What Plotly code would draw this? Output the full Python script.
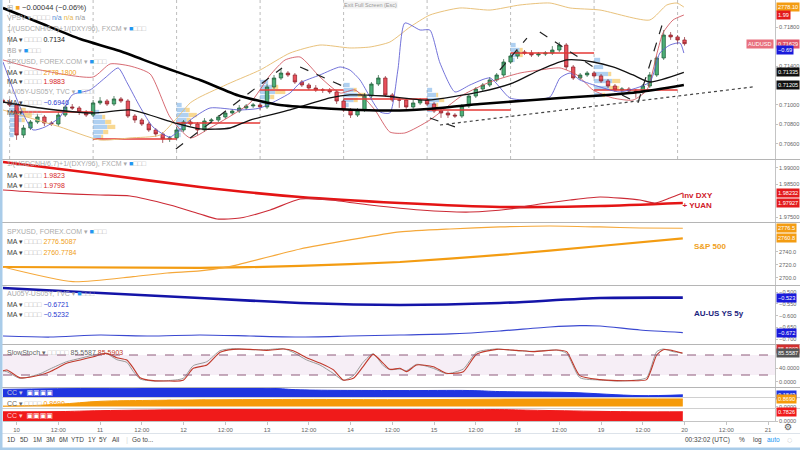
import plotly.graph_objects as go

# x axis = hours since Mon 11 Feb 00:00 UTC (weekend removed), 2h bars
W, H = 800, 450
PLOT_H = 421          # stacked panes end here, date labels + toolbar below
FONT = "Liberation Sans, DejaVu Sans, sans-serif"

tick_hours = list(range(-24, 193, 12))
tick_text = ["10", "12:00", "11", "12:00", "12", "12:00", "13", "12:00", "14", "12:00",
             "15", "12:00", "18", "12:00", "19", "12:00", "20", "12:00", "21"]
session_starts = [-26, -2, 22, 46, 70, 94, 118, 142, 166]

# ---- AUDUSD candles ----
bar_hours = list(range(-28, 169, 2))
first_open = 0.71051
closes = [0.71031, 0.71000, 0.70692, 0.70764, 0.70826, 0.70877, 0.70815, 0.70805, 0.70897, 0.70980,
          0.70969, 0.70928, 0.70897, 0.71021, 0.71041, 0.71010, 0.71062, 0.71041, 0.70887, 0.70846,
          0.70805, 0.70744, 0.70703, 0.70651, 0.70662, 0.70744, 0.70826, 0.70805, 0.70744, 0.70836,
          0.70846, 0.70877, 0.70918, 0.70938, 0.70969, 0.70990, 0.71000, 0.70980, 0.71185, 0.71277,
          0.71328, 0.71308, 0.71236, 0.71205, 0.71174, 0.71154, 0.71154, 0.71134, 0.71041, 0.70949,
          0.70897, 0.70949, 0.71092, 0.71215, 0.71277, 0.71103, 0.71051, 0.71051, 0.70980, 0.71021,
          0.71051, 0.71010, 0.70938, 0.70918, 0.70897, 0.70887, 0.70990, 0.71092, 0.71164, 0.71205,
          0.71257, 0.71308, 0.71441, 0.71503, 0.71544, 0.71533, 0.71513, 0.71523, 0.71533, 0.71564,
          0.71615, 0.71390, 0.71277, 0.71308, 0.71328, 0.71298, 0.71246, 0.71195, 0.71154, 0.71164,
          0.71144, 0.71134, 0.71195, 0.71308, 0.71482, 0.71718, 0.71698, 0.71667, 0.71629]
# wick lengths in pips
wick_up = [2, 3, 2, 3, 2, 3, 2, 2, 3, 2, 3, 2, 2, 3, 4, 2, 3, 2, 2, 2,
           2, 2, 2, 2, 2, 3, 2, 2, 2, 3, 2, 2, 2, 2, 3, 2, 2, 2, 3, 3,
           4, 2, 2, 2, 2, 3, 2, 2, 2, 2, 2, 2, 3, 2, 3, 2, 2, 2, 2, 3,
           2, 2, 2, 2, 2, 2, 2, 2, 2, 2, 3, 2, 3, 3, 2, 2, 3, 2, 2, 4,
           3, 2, 2, 2, 2, 2, 2, 2, 2, 2, 2, 2, 2, 3, 2, 5, 3, 2, 3]
wick_dn = [2, 2, 5, 3, 2, 2, 3, 2, 2, 2, 2, 3, 2, 2, 2, 2, 2, 2, 2, 3,
           2, 2, 3, 4, 3, 2, 2, 2, 5, 2, 2, 2, 2, 2, 2, 2, 2, 3, 2, 2,
           2, 2, 2, 2, 2, 2, 3, 2, 3, 2, 3, 2, 2, 2, 2, 2, 2, 8, 2, 2,
           2, 2, 2, 5, 3, 2, 2, 2, 2, 2, 2, 2, 2, 2, 3, 2, 2, 2, 2, 2,
           2, 3, 2, 2, 2, 2, 2, 2, 2, 3, 2, 6, 2, 2, 2, 2, 3, 4, 2]

# ---- overlays on the price pane (in AUDUSD price units) ----
ma_long_h = [-27.9, -17.2, -5.7, 5.7, 17.2, 28.7, 40.2, 51.7, 63.2, 74.7, 86.2, 97.7,
             109.2, 120.7, 132.2, 143.7, 155.2, 167.8]
ma_long = [0.71995, 0.71841, 0.71677, 0.71554, 0.71400, 0.71257, 0.71092, 0.71000, 0.70969,
           0.70949, 0.70944, 0.70969, 0.71010, 0.71041, 0.71072, 0.71098, 0.71134, 0.71205]
ma_mid_h = [-27.9, -17.2, -2.0, 8.6, 21.6, 28.7, 37.4, 43.1, 54.6, 66.1, 71.8, 81.9, 94.0,
            109.2, 118.7, 126.4, 134.2, 141.7, 147.4, 153.2, 158.0, 167.8]
ma_mid = [0.71031, 0.70969, 0.70918, 0.70949, 0.70815, 0.70754, 0.70764, 0.70846, 0.70949,
          0.71072, 0.71103, 0.71092, 0.71051, 0.71134, 0.71226, 0.71359, 0.71462, 0.71441,
          0.71390, 0.71308, 0.71236, 0.71335]
spx_ov_h = [-27.9, -20.1, -11.5, 0, 8.6, 17.2, 22.1, 25.9, 28.7, 37.4, 46.0, 54.6, 63.2, 71.8,
            77.6, 83.3, 89.1, 94.8, 103.4, 112.1, 120.7, 129.3, 135.1, 143.7, 158.0, 162.9,
            165.8, 167.8]
spx_ov = [0.70949, 0.70867, 0.70775, 0.70641, 0.70662, 0.70692, 0.70867, 0.71021, 0.71082,
          0.71226, 0.71359, 0.71533, 0.71615, 0.71585, 0.71595, 0.71646, 0.71800, 0.71923,
          0.71995, 0.71974, 0.72026, 0.72046, 0.71995, 0.71974, 0.71872, 0.72026, 0.72046,
          0.72005]
dxy_ov_h = [-27.9, -17.2, -2.0, 2.9, 8.6, 14.4, 20.1, 25.9, 31.6, 43.1, 48.9, 53.2, 57.5,
            63.2, 69.0, 73.3, 79.0, 83.3, 87.6, 94.8, 104.3, 112.1, 120.7, 126.4, 132.2,
            137.1, 141.7, 147.4, 153.2, 157.2, 160.1, 161.8, 164.7, 167.8]
dxy_ov = [0.71462, 0.71359, 0.71287, 0.71421, 0.71400, 0.71318, 0.70877, 0.70662, 0.70764,
          0.71021, 0.71308, 0.71462, 0.71492, 0.71287, 0.71123, 0.71154, 0.70949, 0.70723,
          0.70713, 0.70846, 0.71103, 0.71236, 0.71328, 0.71359, 0.71380, 0.71308, 0.71154,
          0.71072, 0.71051, 0.71154, 0.71533, 0.71739, 0.71872, 0.71923]
au_ov_h = [-27.9, -23.0, -19.3, -15.8, -11.5, -8.0, -2.9, 1.4, 5.2, 7.8, 11.5, 15.2, 20.1,
           25.9, 31.6, 40.2, 46.0, 54.6, 57.5, 63.2, 69.0, 71.8, 74.7, 77.6, 80.5, 83.3,
           85.6, 87.6, 92.0, 94.8, 97.7, 102.0, 106.3, 112.1, 117.8, 123.6, 129.3, 132.2,
           135.1, 137.9, 143.7, 149.4, 158.0, 160.9, 163.8, 166.7, 167.8]
au_ov = [0.71441, 0.70980, 0.70744, 0.70775, 0.70877, 0.71103, 0.71154, 0.71277, 0.71380,
         0.71226, 0.70980, 0.70775, 0.70672, 0.70846, 0.70969, 0.70949, 0.70969, 0.71123,
         0.71226, 0.71308, 0.71390, 0.71359, 0.71257, 0.71082, 0.70928, 0.70918, 0.71359,
         0.71841, 0.71769, 0.71769, 0.71431, 0.71134, 0.71205, 0.71277, 0.71072, 0.71051,
         0.71082, 0.71277, 0.71328, 0.71257, 0.71185, 0.71134, 0.71236, 0.71533, 0.71615,
         0.71636, 0.71533]

# session volume profiles
vp_start = [-26, -2, 22, 46, 70, 94, 118, 142]
vp_price = [[0.71000, 0.70949, 0.70897, 0.70846, 0.70795, 0.70744, 0.70692],
            [0.70928, 0.70877, 0.70826, 0.70775, 0.70723, 0.70672],
            [0.71000, 0.70949, 0.70897, 0.70846, 0.70795, 0.70744, 0.70692],
            [0.71236, 0.71185, 0.71134, 0.71082, 0.71031],
            [0.71205, 0.71154, 0.71103, 0.71051, 0.71000],
            [0.71154, 0.71103, 0.71051, 0.71000, 0.70949],
            [0.71615, 0.71564, 0.71513, 0.71462],
            [0.71462, 0.71390, 0.71318, 0.71246, 0.71174, 0.71103]]
vp_blue = [[6, 10, 14, 12, 9, 7, 4], [6, 9, 12, 14, 10, 8], [5, 9, 12, 10, 8, 6, 4],
           [8, 12, 15, 10, 6], [6, 10, 14, 10, 5], [5, 9, 12, 9, 5], [5, 9, 8, 4],
           [6, 9, 14, 18, 15, 8]]
vp_yellow = [[0, 6, 8, 3, 0, 0, 0], [0, 3, 6, 8, 5, 2], [0, 4, 8, 4, 0, 0, 0],
             [0, 6, 10, 4, 0], [0, 3, 8, 4, 0], [0, 2, 5, 2, 0], [0, 3, 4, 0],
             [0, 0, 3, 8, 10, 3]]
poc_start = [-26, -2, 22, 46, 70, 94, 118, 142]
poc_end = [-2, 22, 46, 70, 94, 118, 142, 166]
poc_price = [0.70928, 0.70651, 0.70815, 0.71154, 0.71062, 0.70949, 0.71533, 0.71154]

# hand drawings
draw_x = [[21.8, 52.3], [57.5, 71.0], [94.8, 102.0], [114.9, 122.7], [126.4, 142.2],
          [150.0, 154.6, 161.8]]
draw_y = [[0.70549, 0.71380], [0.71390, 0.71174], [0.70867, 0.70775], [0.71359, 0.71687],
          [0.71749, 0.71380], [0.71103, 0.71021, 0.71851]]
trend_x = [97.7, 187.6]
trend_y = [0.70795, 0.71185]

# ---- inv DXY + YUAN ----
dxy_slow_h = [-27.9, 0, 28.7, 57.5, 86.2, 114.9, 143.7, 167.5]
dxy_slow = [1.99178, 1.98812, 1.98415, 1.98110, 1.97927, 1.97805, 1.97835, 1.97927]
dxy_fast_h = [-27.9, -14.4, 0, 8.6, 20.1, 28.7, 33.6, 40.2, 48.9, 57.5, 66.1, 77.6, 92.0,
              106.3, 117.8, 126.4, 135.1, 143.7, 155.2, 159.5, 163.8, 167.5]
dxy_fast = [1.98324, 1.98232, 1.98171, 1.98141, 1.97866, 1.97592, 1.97439, 1.97470, 1.97714,
            1.98049, 1.98019, 1.97866, 1.97714, 1.97653, 1.97744, 1.97897, 1.98019, 1.98110,
            1.98019, 1.97927, 1.98080, 1.98232]

# ---- S&P 500 ----
spx_slow_h = [-27.9, 28.7, 57.5, 86.2, 114.9, 143.7, 167.5]
spx_slow = [2716.9, 2715.4, 2718.5, 2724.6, 2735.4, 2749.2, 2760.8]
spx_fast_h = [-27.9, -7.8, 9.5, 19.3, 28.7, 37.1, 57.5, 71.8, 86.2, 100.6, 114.9, 129.3,
              143.7, 155.2, 167.5]
spx_fast = [2716.9, 2694.3, 2702.0, 2707.7, 2710.8, 2717.4, 2744.6, 2758.5, 2770.8, 2775.4,
            2778.5, 2780.0, 2778.5, 2776.9, 2776.5]

# ---- AU-US 5y spread ----
au_slow_h = [-27.9, 0, 28.7, 57.5, 86.2, 114.9, 143.7, 167.5]
au_slow = [-0.4817, -0.5031, -0.5244, -0.5458, -0.5543, -0.5458, -0.5244, -0.5230]
au_fast_h = [-27.9, -14.4, 0, 14.4, 28.7, 43.1, 57.5, 71.8, 86.2, 100.6, 114.9, 129.3,
             137.9, 143.7, 155.2, 167.5]
au_fast = [-0.6867, -0.6910, -0.6824, -0.6867, -0.6824, -0.6867, -0.6910, -0.6867, -0.6824,
           -0.6780, -0.6653, -0.6482, -0.6427, -0.6440, -0.6610, -0.6720]

# ---- slow stochastic ----
st_h = [-28.7, -26.8, -23, -17.2, -14.4, -9.6, -5.7, -1.9, 1.9, 4.8, 7.7, 9.6, 11.5, 15.3,
        19.2, 23.9, 26.8, 30.7, 34.5, 38.3, 43.1, 47.9, 52.7, 55.5, 59.4, 63.2, 67, 69.9,
        72.8, 75.6, 78.5, 81.4, 83.3, 86.2, 88.1, 91, 95.8, 99.6, 104.4, 108.2, 114, 119.7,
        124.5, 131.2, 134.1, 137.9, 143.7, 148.5, 153.2, 157.1, 160, 161.9, 164.7, 167.4]
st_d = [30, 35, 12, 20, 30, 55, 65, 75, 85, 72, 65, 40, 12, 3, 2, 4, 40, 50, 88, 97, 97, 94,
        98, 93, 72, 56, 36, 5, 10, 45, 82, 55, 37, 40, 30, 50, 45, 25, 30, 82, 97, 94, 90, 95,
        90, 18, 6, 3, 3, 6, 80, 96, 93, 85.59]
st_k = [33, 30, 10, 24, 38, 60, 70, 80, 84, 66, 58, 30, 8, 2, 3, 10, 48, 60, 93, 99, 96, 96,
        99, 88, 65, 50, 25, 4, 18, 58, 84, 48, 36, 38, 33, 52, 40, 24, 38, 88, 98, 93, 91, 95,
        85, 12, 5, 2, 4, 12, 90, 98, 90, 85.56]

# ---- correlation coefficients ----
cc_blue_h = [-27.9, 0, 48.9, 57.5, 86.2, 106.3, 114.9, 135.1, 155.2, 167.5]
cc_blue = [0.66, 0.75, 0.75, 0.62, 0.56, 0.56, 0.47, 0.39, 0.12, 0.1843]
cc_orange_h = [-27.9, -20.1, -11.5, 0, 14.4, 57.5, 86.2, 114.9, 143.7, 167.5]
cc_orange = [0.05, 0.1, 0.25, 0.55, 0.65, 0.75, 0.72, 0.78, 0.8, 0.8]
cc_red_h = [-27.9, -11.5, 0, 28.7, 57.5, 86.2, 114.9, 123.6, 143.7, 155.2, 167.5]
cc_red = [0.78, 0.8, 0.88, 0.97, 1.0, 1.0, 0.97, 0.92, 0.82, 0.78, 0.7826]


def py(px):
    return (PLOT_H - px) / PLOT_H


def dom(top, bottom):
    return [py(bottom), py(top)]


opens = [first_open] + closes[:-1]
highs = [max(o, c) + u * 0.0001 for o, c, u in zip(opens, closes, wick_up)]
lows = [min(o, c) - d * 0.0001 for o, c, d in zip(opens, closes, wick_dn)]

fig = go.Figure()


def line(x, y, yaxis, color, width, dash=None, shape="spline"):
    fig.add_trace(go.Scatter(x=x, y=y, xaxis="x", yaxis=yaxis, mode="lines",
                             line=dict(color=color, width=width, dash=dash, shape=shape,
                                       smoothing=0.6 if shape == "spline" else None),
                             showlegend=False, hoverinfo="skip"))


# volume profiles (blue then yellow part)
VP_SCALE = 0.29
for s, lv, bl, ye in zip(vp_start, vp_price, vp_blue, vp_yellow):
    fig.add_trace(go.Bar(y=lv, x=[b * VP_SCALE for b in bl], base=[s] * len(lv),
                         orientation="h", width=0.00044, xaxis="x", yaxis="y",
                         marker=dict(color="rgba(110,170,230,0.55)", line_width=0),
                         showlegend=False, hoverinfo="skip"))
    fig.add_trace(go.Bar(y=lv, x=[v * VP_SCALE for v in ye],
                         base=[s + b * VP_SCALE for b in bl], orientation="h",
                         width=0.00044, xaxis="x", yaxis="y",
                         marker=dict(color="rgba(245,200,100,0.7)", line_width=0),
                         showlegend=False, hoverinfo="skip"))

poc_x, poc_y = [], []
for a, b, p in zip(poc_start, poc_end, poc_price):
    poc_x += [a, b, None]
    poc_y += [p, p, None]
line(poc_x, poc_y, "y", "#e53935", 1.4, shape="linear")

line(spx_ov_h, spx_ov, "y", "#e9c27c", 1)
line(dxy_ov_h, dxy_ov, "y", "rgba(205,70,80,0.8)", 1)
line(au_ov_h, au_ov, "y", "rgba(90,90,210,0.85)", 1)

fig.add_trace(go.Candlestick(
    x=bar_hours, open=opens, high=highs, low=lows, close=closes, xaxis="x", yaxis="y",
    increasing=dict(line=dict(color="#1f5a36", width=0.7), fillcolor="#4caf78"),
    decreasing=dict(line=dict(color="#8a1f28", width=0.7), fillcolor="#e8505b"),
    whiskerwidth=0, showlegend=False, hoverinfo="skip"))

line(ma_mid_h, ma_mid, "y", "#111111", 1.3)
line(ma_long_h, ma_long, "y", "#000000", 2.6)
for dx, dy in zip(draw_x, draw_y):
    line(dx, dy, "y", "#222222", 1.2, dash="dash", shape="linear")
line(trend_x, trend_y, "y", "#444444", 1.2, dash="dot", shape="linear")

line(dxy_slow_h, dxy_slow, "y2", "#e41414", 2.6)
line(dxy_fast_h, dxy_fast, "y2", "#cc2b36", 1.2)
line(spx_slow_h, spx_slow, "y3", "#f39c12", 2.2)
line(spx_fast_h, spx_fast, "y3", "#f5a83a", 1.2)
line(au_slow_h, au_slow, "y4", "#1414a8", 2.6)
line(au_fast_h, au_fast, "y4", "#3a48d0", 1.2)
line(st_h, st_k, "y5", "#9a9a9a", 1)
line(st_h, st_d, "y5", "#c0392b", 1.1)

for hh, vv, ax, col in [(cc_blue_h, cc_blue, "y6", "#1f35e0"),
                        (cc_orange_h, cc_orange, "y7", "#f59a0a"),
                        (cc_red_h, cc_red, "y8", "#f01a1a")]:
    fig.add_trace(go.Scatter(x=hh, y=vv, xaxis="x", yaxis=ax, mode="lines",
                             line=dict(color=col, width=1, shape="spline"),
                             fill="tozeroy", fillcolor=col, showlegend=False,
                             hoverinfo="skip"))

# ---- axes ----
tickfont = dict(size=5.6, color="#666", family=FONT)
common_y = dict(anchor="x", side="right", showgrid=False, zeroline=False, showline=True,
                linecolor="#c4c4c4", ticks="outside", ticklen=2, tickcolor="#c4c4c4",
                tickfont=tickfont, fixedrange=True)


def fmt(vals, f):
    return [f.format(v).replace("-", "\u2212") for v in vals]


main_ticks = [0.706, 0.708, 0.710, 0.714, 0.718]
dxy_ticks = [1.975, 1.985, 1.99]
spx_ticks = [2700, 2720, 2740]
au_ticks = [-0.5, -0.55, -0.6, -0.65, -0.7]

fig.update_layout(
    width=W, height=H, margin=dict(l=0, r=0, t=0, b=H - PLOT_H),
    paper_bgcolor="white", plot_bgcolor="white", barmode="overlay",
    font=dict(family=FONT, size=7, color="#555"),
    xaxis=dict(domain=[3 / W, 775 / W], range=[-27.9, 194], anchor="y8",
               tickvals=tick_hours, ticktext=tick_text, showgrid=False, zeroline=False,
               showline=True, linecolor="#c4c4c4", ticks="outside", ticklen=3,
               tickcolor="#c4c4c4", tickfont=dict(size=6, color="#666", family=FONT),
               rangeslider=dict(visible=False), fixedrange=True),
    yaxis=dict(domain=dom(0, 159), range=[0.70446, 0.72077], tickvals=main_ticks,
               ticktext=fmt(main_ticks, "{:.5f}"), **common_y),
    yaxis2=dict(domain=dom(160, 222), range=[1.97348, 1.99239], tickvals=dxy_ticks,
                ticktext=fmt(dxy_ticks, "{:.5f}"), **common_y),
    yaxis3=dict(domain=dom(223, 285), range=[2689.2, 2784.6], tickvals=spx_ticks,
                ticktext=fmt(spx_ticks, "{:.1f}"), **common_y),
    yaxis4=dict(domain=dom(286, 344), range=[-0.7208, -0.4732], tickvals=au_ticks,
                ticktext=fmt(au_ticks, "{:.3f}"), **common_y),
    yaxis5=dict(domain=dom(345, 387), range=[-16, 110], tickvals=[0, 40],
                ticktext=["0.0000", "40.0000"], **common_y),
    yaxis6=dict(domain=dom(388, 397), range=[0, 0.78], tickvals=[], **common_y),
    yaxis7=dict(domain=dom(398, 408), range=[-0.15, 0.9], tickvals=[0],
                ticktext=["0.0000"], **common_y),
    yaxis8=dict(domain=dom(409, 421), range=[0, 1.02], tickvals=[0],
                ticktext=["0.0000"], **common_y),
)

# ---- shapes: session lines, separators, stoch band, frame ----
for s in session_starts:
    fig.add_shape(type="line", xref="x", yref="y domain", x0=s, x1=s, y0=0, y1=1,
                  line=dict(color="#bdbdbd", width=1, dash="dot"), layer="below")
for sep, col in [(159.5, "#b5b5b5"), (222.5, "#b5b5b5"), (285.5, "#b5b5b5"),
                 (344.5, "#b5b5b5"), (387.5, "#b5b5b5"), (397.5, "#d0d0d0"),
                 (408.5, "#d0d0d0"), (433.5, "#dde3ea")]:
    fig.add_shape(type="line", xref="paper", yref="paper", x0=0, x1=1, y0=py(sep),
                  y1=py(sep), line=dict(color=col, width=1))
fig.add_shape(type="rect", xref="x domain", yref="y5", x0=0, x1=1, y0=20, y1=80,
              fillcolor="#f6eef6", line_width=0, layer="below")
for lvl in [20, 80]:
    fig.add_shape(type="line", xref="x domain", yref="y5", x0=0, x1=1, y0=lvl, y1=lvl,
                  line=dict(color="#8e5a7a", width=1, dash="dash"))
fig.add_shape(type="rect", xref="paper", yref="paper", x0=0, x1=2.5 / W, y0=py(H), y1=1,
              fillcolor="#a9cce9", line_width=0)
fig.add_shape(type="rect", xref="paper", yref="paper", x0=0, x1=1, y0=py(H), y1=py(447.5),
              fillcolor="#a9cce9", line_width=0)


def note(x, y, text, size=7, color="#666", xanchor="left", bg=None):
    fig.add_annotation(x=x / W, y=py(y), xref="paper", yref="paper", text=text,
                       showarrow=False, xanchor=xanchor, yanchor="middle", bgcolor=bg,
                       font=dict(size=size, color=color, family=FONT), borderpad=0)


def tag(yref, yval, text, bg, xanchor="left", x=776, yshift=0):
    fig.add_annotation(x=x / W, xref="paper", y=yval, yref=yref, text=text, showarrow=False,
                       xanchor=xanchor, yanchor="middle", bgcolor=bg, borderpad=1,
                       yshift=yshift, font=dict(size=5.6, color="white", family=FONT))


BOX = "<span style='color:#b8b8b8'>\u25a1\u25a1\u25a1\u25a1</span>"
BLUEBOX = "<span style='color:#2196f3'>\u25a0</span><span style='color:#b8b8b8'>\u25a1\u25a1\u25a1</span>"

# legends, price pane
note(6, 7, "<span style='color:#aaa'>\u229f</span> <span style='color:#f5a623'>\u25a0</span> "
     "<span style='color:#333'>\u22120.00044 (\u22120.06%)</span>", size=7.5)
note(6, 17, "<span style='color:#aaa'>VPSV \u25be</span> " + BOX +
     " <span style='color:#5b8fd6'>n/a</span> <span style='color:#e8b64c'>n/a</span> "
     "<span style='color:#999'>n/a</span>")
note(6, 29, "<span style='color:#aaa'>1/(USDCNH/6.7)+1/(DXY/96), FXCM \u25be</span> " + BLUEBOX)
note(6, 40, "<span style='color:#444'>MA \u25be</span> " + BOX + " <span style='color:#222'>0.7134</span>")
note(6, 51, "<span style='color:#aaa'>BB \u25be</span> " + BLUEBOX)
note(6, 61, "<span style='color:#aaa'>SPXUSD, FOREX.COM \u25be</span> " + BLUEBOX)
note(6, 72, "<span style='color:#444'>MA \u25be</span> " + BOX + " <span style='color:#f0a020'>2778.1800</span>")
note(6, 82, "<span style='color:#444'>MA \u25be</span> " + BOX + " <span style='color:#d62828'>1.9883</span>")
note(6, 92, "<span style='color:#aaa'>AU05Y-US05Y, TVC \u25be</span> " + BLUEBOX)
note(6, 102, "<span style='color:#444'>MA \u25be</span> " + BOX + " <span style='color:#2a3ad0'>\u22120.6946</span>")
note(6, 112, "<span style='color:#444'>MA \u25be</span> " + BOX)
note(370, 5, "Exit Full Screen (Esc)", size=5.5, color="#999", xanchor="center", bg="#f2f2f2")

# legends, lower panes
note(6, 164, "<span style='color:#aaa'>1/(USDCNH/6.7)+1/(DXY/96), FXCM \u25be</span> " + BLUEBOX)
note(6, 175, "<span style='color:#444'>MA \u25be</span> " + BOX + " <span style='color:#d62828'>1.9823</span>")
note(6, 185, "<span style='color:#444'>MA \u25be</span> " + BOX + " <span style='color:#d62828'>1.9798</span>")
note(6, 231, "<span style='color:#aaa'>SPXUSD, FOREX.COM \u25be</span> " + BLUEBOX)
note(6, 241, "<span style='color:#444'>MA \u25be</span> " + BOX + " <span style='color:#f0a020'>2776.5087</span>")
note(6, 252, "<span style='color:#444'>MA \u25be</span> " + BOX + " <span style='color:#f0a020'>2760.7784</span>")
note(6, 293, "<span style='color:#aaa'>AU05Y-US05Y, TVC \u25be</span> " + BLUEBOX)
note(6, 304, "<span style='color:#444'>MA \u25be</span> " + BOX + " <span style='color:#2a3ad0'>\u22120.6721</span>")
note(6, 314, "<span style='color:#444'>MA \u25be</span> " + BOX + " <span style='color:#2a3ad0'>\u22120.5232</span>")
note(6, 352, "<span style='color:#666'>SlowStoch \u25be</span> " + BOX +
     "<span style='color:#b8b8b8'>\u25a1</span> <span style='color:#666'>85.5587</span> "
     "<span style='color:#c0392b'>85.5903</span>")
note(6, 392, "<span style='color:#ccd'>CC \u25be</span>  <span style='color:white'>\u25a3\u25a3\u25a3\u25a3</span>")
note(6, 403, "<span style='color:#666'>CC \u25be</span> " + BOX + " <span style='color:#f59a0a'>0.8690</span>")
note(6, 415, "<span style='color:#fcc'>CC \u25be</span>  <span style='color:white'>\u25a3\u25a3\u25a3\u25a3</span>")

note(681, 200, "<b>inv DXY<br>+ YUAN</b>", size=8, color="#d0202a")
note(693, 247, "<b>S&amp;P 500</b>", size=8, color="#f0a020")
note(693, 313, "<b>AU-US YS 5y</b>", size=8, color="#1a237e")

# right-hand value tags
tag("y", spx_ov[-1], "2778.10", "#f39c12")
tag("y", dxy_ov[-1], "1.99", "#e31a1c")
tag("y", closes[-1], "0.71629", "#e0556a")
tag("y", closes[-1], "AUDUSD", "#e8707e", xanchor="right", x=774)
tag("y", au_ov[-1], "\u22120.69", "#1a1adb", yshift=3)
tag("y", ma_mid[-1], "0.71335", "#111111")
tag("y", ma_long[-1], "0.71205", "#111111")
tag("y2", dxy_fast[-1], "1.98232", "#e31a1c")
tag("y2", dxy_slow[-1], "1.97927", "#e31a1c")
tag("y3", spx_fast[-1], "2776.5", "#f39c12")
tag("y3", spx_slow[-1], "2760.8", "#f39c12")
tag("y4", au_slow[-1], "\u22120.523", "#1a1adb")
tag("y4", au_fast[-1], "\u22120.672", "#1a1adb")
tag("y5", st_d[-1], "85.5903", "#d32f2f", yshift=4)
tag("y5", st_k[-1], "85.5587", "#555555")
tag("y6", cc_blue[-1], "0.1843", "#1f35e0")
tag("y7", cc_orange[-1], "0.8690", "#f59a0a")
tag("y8", cc_red[-1], "0.7826", "#f01a1a")

# bottom toolbar
for lbl, xc in zip(["1D", "5D", "1M", "3M", "6M", "YTD", "1Y", "5Y", "All"],
                   [11, 24, 37, 50, 63, 77, 92, 103, 116]):
    note(xc, 440, lbl, size=6.5, color="#444", xanchor="center")
note(127, 440, "|", size=8, color="#ddd", xanchor="center")
note(143, 440, "Go to...", size=6.5, color="#444", xanchor="center")
note(707, 440, "00:32:02 (UTC)", size=6.5, color="#444", xanchor="center")
note(742, 440, "%", size=6.5, color="#444", xanchor="center")
note(757, 440, "log", size=6.5, color="#444", xanchor="center")
note(773, 440, "auto", size=6.5, color="#2196f3", xanchor="center")
note(789, 440, "\u25cc", size=9, color="#999", xanchor="center")
note(788, 427, "\u2699", size=9, color="#555", xanchor="center")

fig.write_html("out.html", config={"displayModeBar": False},
               post_script="document.body.style.margin='0';"
                           "document.body.style.overflow='hidden';")
